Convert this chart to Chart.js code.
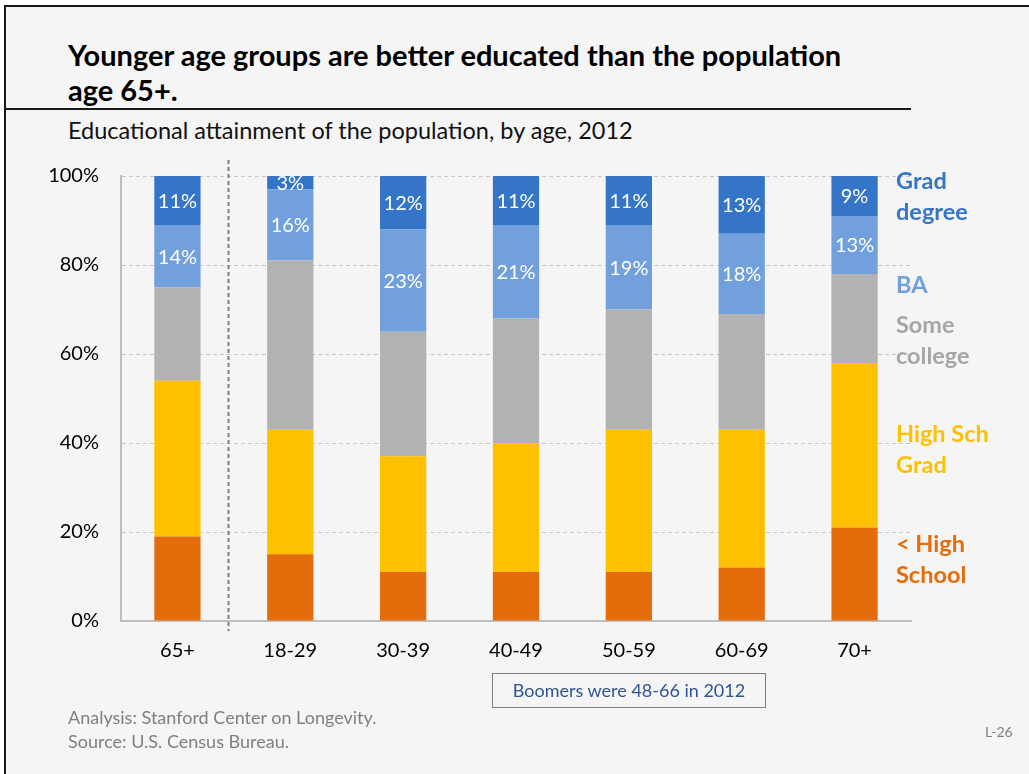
<!DOCTYPE html>
<html>
<head>
<meta charset="utf-8">
<script src="https://cdn.jsdelivr.net/npm/chart.js@4/dist/chart.umd.min.js"></script>
<style>
  html, body { margin: 0; padding: 0; background: #ffffff; }
  #page { position: relative; width: 1029px; height: 774px; overflow: hidden; background: #ffffff; }
  #slide { position: absolute; left: 4px; top: 5px; right: 0; bottom: 0; background: #f5f5f5;
           border-left: 2px solid #1a1a1a; border-top: 2px solid #1a1a1a; }
  #chart-wrap { position: absolute; left: 0; top: 0; width: 1029px; height: 774px; }
  .txt { position: absolute; font-family: Lato, "Open Sans", sans-serif; white-space: nowrap; }
  #title { left: 68px; top: 37px; font-size: 29px; font-weight: bold; color: #000; line-height: 35px; }
  #rule { position: absolute; left: 5px; top: 108px; width: 906px; height: 2px; background: #1a1a1a; }
  #subtitle { left: 68px; top: 116px; font-size: 23.5px; color: #111; }
  #boomers { left: 492px; top: 673px; width: 272px; height: 33px; border: 1px solid #7f7f7f;
             font-size: 18px; color: #2f5597; text-align: center; line-height: 33px; }
  #notes { left: 68px; top: 705px; font-size: 18px; color: #7f7f7f; line-height: 24px; }
  #page-no { left: 985px; top: 723px; font-size: 14px; color: #7f7f7f; }
</style>
</head>
<body>
<div id="page">
  <div id="slide"></div>
  <div id="rule"></div>
  <div class="txt" id="title">Younger age groups are better educated than the population<br>age 65+.</div>
  <div class="txt" id="subtitle">Educational attainment of the population, by age, 2012</div>
  <div id="chart-wrap"><canvas id="my-chart" width="1029" height="774"></canvas></div>
  <div class="txt" id="boomers">Boomers were 48-66 in 2012</div>
  <div class="txt" id="notes">Analysis: Stanford Center on Longevity.<br>Source: U.S. Census Bureau.</div>
  <div class="txt" id="page-no">L-26</div>
</div>
<script>
// share of population (%) by age group
var ageGroups = ['65+', '18-29', '30-39', '40-49', '50-59', '60-69', '70+'];
var lessThanHS = [19, 15, 11, 11, 11, 12, 21];
var highSchool = [35, 28, 26, 29, 32, 31, 37];
var someCollege = [21, 38, 28, 28, 27, 26, 20];
var bachelors = [14, 16, 23, 21, 19, 18, 13];
var gradDegree = [11, 3, 12, 11, 11, 13, 9];
var yTicks = [0, 20, 40, 60, 80, 100];

var seriesNames = ['< High School', 'High Sch Grad', 'Some college', 'BA', 'Grad degree'];
var seriesColors = ['#e46c0a', '#ffc000', '#b2b2b2', '#71a0dc', '#3475c8'];
var sideLabels = [
  { lines: ['< High', 'School'], color: '#e46c0a', at: 13.7 },
  { lines: ['High Sch', 'Grad'], color: '#ffc000', at: 38.5 },
  { lines: ['Some', 'college'], color: '#a6a6a6', at: 63 },
  { lines: ['BA'], color: '#71a0dc', at: 75.5 },
  { lines: ['Grad', 'degree'], color: '#3475c8', at: 95.2 }
];

var FONT = 'Lato, "Open Sans", sans-serif';

// white % labels on the two top segments
var segmentLabels = {
  id: 'segmentLabels',
  afterDatasetsDraw: function(chart) {
    var ctx = chart.ctx;
    ctx.save();
    ctx.fillStyle = '#ffffff';
    ctx.font = '20px ' + FONT;
    ctx.textAlign = 'center';
    ctx.textBaseline = 'middle';
    [3, 4].forEach(function(d) {
      var meta = chart.getDatasetMeta(d);
      meta.data.forEach(function(bar, i) {
        var v = chart.data.datasets[d].data[i];
        var yMid = (bar.y + bar.base) / 2;
        ctx.fillText(v + '%', bar.x, yMid + 1);
      });
    });
    ctx.restore();
  }
};

// series names to the right of the plot + dashed divider after 65+
var extras = {
  id: 'extras',
  afterDraw: function(chart) {
    var ctx = chart.ctx;
    var x = chart.scales.x, y = chart.scales.y;
    ctx.save();
    ctx.font = 'bold 23.5px ' + FONT;
    ctx.textAlign = 'left';
    ctx.textBaseline = 'middle';
    sideLabels.forEach(function(s) {
      ctx.fillStyle = s.color;
      var y0 = y.getPixelForValue(s.at) - (s.lines.length - 1) * 15.5;
      s.lines.forEach(function(line, k) {
        ctx.fillText(line, chart.chartArea.right - 15, y0 + k * 31);
      });
    });
    var dx = Math.round((x.getPixelForValue(0) + x.getPixelForValue(1)) / 2) - 5.5;
    ctx.strokeStyle = '#7f7f7f';
    ctx.lineWidth = 2;
    ctx.setLineDash([4, 3]);
    ctx.beginPath();
    ctx.moveTo(dx, 160);
    ctx.lineTo(dx, chart.chartArea.bottom + 10);
    ctx.stroke();
    ctx.restore();
  }
};

var buildDatasets = function() {
  var all = [lessThanHS, highSchool, someCollege, bachelors, gradDegree];
  var sets = [];
  for (var i = 0; i < all.length; i++) {
    sets.push({
      label: seriesNames[i],
      data: all[i],
      backgroundColor: seriesColors[i],
      borderWidth: 0,
      barPercentage: 0.41,
      categoryPercentage: 1
    });
  }
  return sets;
};

var create = function() {
  var ctx = document.getElementById('my-chart');
  return new Chart(ctx, {
    type: 'bar',
    data: { labels: ageGroups, datasets: buildDatasets() },
    plugins: [segmentLabels, extras],
    options: {
      responsive: false,
      animation: false,
      layout: { padding: { left: 0, top: 176, right: 118, bottom: 0 } },
      plugins: { legend: { display: false }, tooltip: { enabled: false } },
      scales: {
        x: {
          stacked: true,
          grid: { display: false, drawTicks: false },
          border: { display: true, color: '#bfbfbf', width: 2 },
          ticks: { color: '#000', font: { family: FONT, size: 20 }, padding: 18 },
          afterFit: function(scale) { scale.height = 153; }
        },
        y: {
          stacked: true,
          min: 0,
          max: 100,
          afterBuildTicks: function(scale) {
            scale.ticks = yTicks.map(function(v) { return { value: v }; });
          },
          grid: { color: '#c8c8c8', lineWidth: 1, drawTicks: false },
          border: { display: true, color: '#bfbfbf', width: 2, dash: [4, 3] },
          ticks: {
            color: '#000',
            font: { family: FONT, size: 20 },
            padding: 22,
            callback: function(v) { return v + '%'; }
          },
          afterFit: function(scale) { scale.width = 121; }
        }
      }
    }
  });
};

create();
</script>
</body>
</html>
